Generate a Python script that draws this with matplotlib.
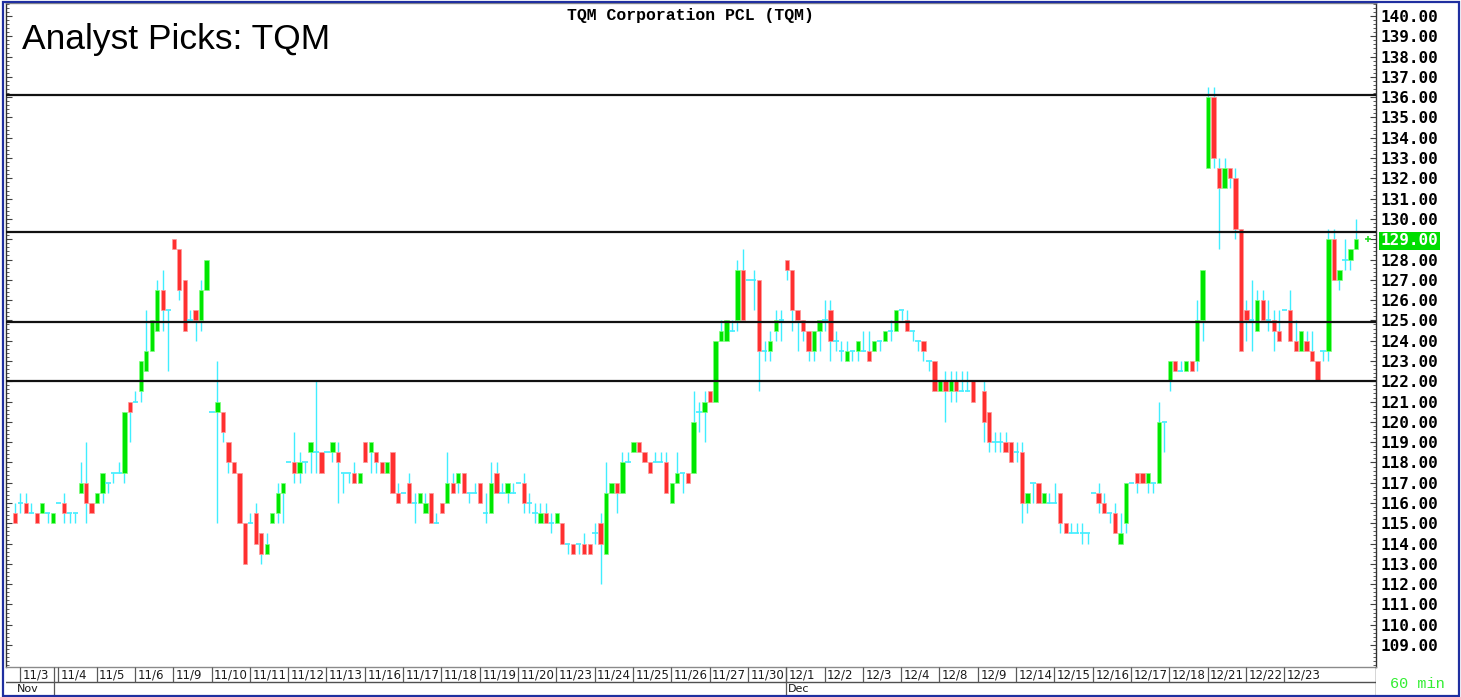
import numpy as np
import matplotlib.pyplot as plt
from matplotlib.patches import Rectangle
from matplotlib.ticker import FixedLocator, MultipleLocator

# 60 min bars. bar 0 is the last bar of the previous
# session, then 7 bars per trading day (11/3 ... 12/24)
opens = [
    115.5,
    116, 116, 115.5, 115.5, 115.5, 115.5, 115,
    116, 116, 115.5, 115.5, 116.5, 117, 116,
    116, 116.5, 117, 117.5, 117.5, 117.5, 121,
    121, 121.5, 122.5, 123.5, 124.5, 126.5, 125.5,
    129, 128.5, 127, 125, 125.5, 125, 126.5,
    120.5, 120.5, 120.5, 119, 118, 117.5, 115,
    115, 115.5, 114.5, 113.5, 115, 115.5, 116.5,
    118, 118, 117.5, 118, 118.5, 118.5, 118.5,
    118.5, 118.5, 118.5, 117.5, 117.5, 117.5, 117,
    119, 118.5, 118.5, 118, 117.5, 118.5, 116.5,
    116.5, 117, 116, 116, 115.5, 116.5, 115,
    116, 116, 117, 117, 117.5, 116.5, 116.5,
    117, 115.5, 115.5, 117.5, 116.5, 116.5, 116.5,
    117, 117, 116, 115.5, 115, 115.5, 115,
    115, 115, 114, 114, 114, 114, 114,
    114.5, 115, 113.5, 116.5, 117, 116.5, 118,
    118.5, 119, 118.5, 118, 118, 118, 118,
    116, 117, 117.5, 117.5, 117.5, 120.5, 120.5,
    121.5, 121, 124, 124, 124.5, 125, 127.5,
    127, 127, 127, 123.5, 123.5, 124.5, 125,
    128, 127.5, 125.5, 125, 124.5, 123.5, 124.5,
    125, 125.5, 124, 123.5, 123, 123.5, 123.5,
    123.5, 123.5, 123.5, 124, 124, 124.5, 124.5,
    125.5, 125, 124.5, 124, 124, 123, 123,
    121.5, 122, 121.5, 122, 121.5, 121.5, 122,
    122, 121.5, 120.5, 119, 119, 119, 119,
    118.5, 118.5, 116, 117, 117, 116, 116,
    116, 116.5, 115, 114.5, 114.5, 114.5, 114.5,
    116.5, 116.5, 116, 115.5, 115.5, 114, 115,
    117, 117.5, 117.5, 117, 117, 117, 120,
    122, 123, 122.5, 122.5, 123, 123, 125,
    132.5, 136, 132.5, 131.5, 132.5, 132, 129.5,
    125.5, 125, 124.5, 126, 125, 125, 124.5,
    125.5, 125.5, 124, 123.5, 124, 123.5, 123,
    123.5, 123.5, 129, 127, 128, 128, 128.5,
]
highs = [
    116,
    116.5, 116.5, 116, 115.5, 116, 115.5, 115.5,
    116, 116.5, 115.5, 115.5, 118, 119, 116,
    116.5, 117.5, 117, 117.5, 118, 120.5, 121,
    121.5, 123, 125.5, 125, 127, 127.5, 125.5,
    129, 128.5, 127, 125.5, 125.5, 127, 128,
    120.5, 123, 120.5, 119, 118, 117.5, 115,
    115.5, 116, 114.5, 114.5, 115.5, 117, 117,
    118, 119.5, 118.5, 118, 119, 122, 118.5,
    118.5, 119, 119, 117.5, 117.5, 118, 117.5,
    119, 119, 118.5, 118, 118, 118.5, 117,
    116.5, 117.5, 116.5, 116.5, 116.5, 116.5, 115.5,
    116, 118.5, 117.5, 117.5, 117.5, 116.5, 117,
    117, 116.5, 118, 118, 117, 117, 117,
    117, 117.5, 116.5, 116, 116, 116, 115.5,
    115.5, 115, 114, 114, 114, 114.5, 114,
    115, 115.5, 118, 117, 117, 118.5, 118.5,
    119, 119, 118.5, 118, 118.5, 118.5, 118.5,
    117, 118.5, 117.5, 117.5, 121.5, 121, 121.5,
    121.5, 124, 125, 125, 125, 128, 128.5,
    127, 127.5, 127, 124, 124.5, 125.5, 125.5,
    128, 127.5, 125.5, 125, 124.5, 124.5, 125,
    126, 126, 124.5, 124, 124, 123.5, 124,
    124.5, 124.5, 124, 124, 124.5, 125, 125.5,
    125.5, 125.5, 124.5, 124, 124, 123, 123,
    122, 122.5, 122.5, 122.5, 122.5, 122.5, 122,
    122, 122, 120.5, 119.5, 119.5, 119.5, 119,
    119, 119, 116.5, 117, 117, 116.5, 116.5,
    117, 116.5, 115, 115, 115, 115, 114.5,
    116.5, 117, 116.5, 115.5, 116, 115.5, 117,
    117, 117.5, 117.5, 117.5, 117, 121, 120,
    123, 123, 123, 123, 123, 126, 127.5,
    136.5, 136.5, 133, 133, 132.5, 132.5, 129.5,
    126, 127, 126.5, 126.5, 126, 125.5, 125.5,
    125.5, 126.5, 125, 124.5, 124.5, 124.5, 123,
    123.5, 129.5, 129.5, 127.5, 129, 128.5, 130,
]
lows = [
    115,
    115.5, 115.5, 115.5, 115, 115.5, 115, 115,
    116, 115, 115, 115, 116.5, 115, 115.5,
    116, 116, 116.5, 117, 117.5, 117, 119,
    121, 121, 122.5, 123.5, 124.5, 124.5, 122.5,
    128.5, 126, 124.5, 125, 124, 124.5, 126.5,
    120.5, 115, 119, 117.5, 117.5, 115, 113,
    115, 114, 113, 113.5, 115, 115, 115,
    118, 117, 117, 117.5, 117.5, 117.5, 117.5,
    118.5, 118, 116, 116.5, 117, 117, 117,
    118, 117.5, 117.5, 117.5, 117.5, 116.5, 116,
    116.5, 116, 115, 116, 115.5, 115, 115,
    115.5, 116, 116.5, 116.5, 116.5, 116, 116.5,
    116, 115, 115.5, 116.5, 116.5, 116, 116.5,
    117, 115.5, 115.5, 115, 115, 115, 114.5,
    115, 114, 113.5, 113.5, 113.5, 113.5, 113.5,
    114, 112, 113.5, 116.5, 115.5, 116.5, 118,
    118.5, 118.5, 118, 117.5, 118, 118, 116.5,
    116, 117, 116.5, 117, 117.5, 119.5, 119,
    121, 121, 124, 124, 124.5, 124.5, 125,
    127, 125.5, 121.5, 123, 123, 124, 124,
    127, 124.5, 123.5, 124, 123, 123, 123.5,
    124.5, 123, 123.5, 123, 123, 123, 123,
    123.5, 123, 123.5, 123.5, 124, 124, 124.5,
    125, 124.5, 124, 123.5, 123, 122.5, 121.5,
    121.5, 120, 121, 121, 121.5, 121.5, 121,
    122, 119, 118.5, 118.5, 118.5, 118.5, 118,
    118, 115, 115.5, 116, 116, 116, 116,
    116, 114.5, 114.5, 114.5, 114.5, 114, 114,
    116.5, 115.5, 115.5, 115, 114.5, 114, 114.5,
    117, 116.5, 117, 116.5, 116.5, 117, 118.5,
    121.5, 122.5, 122.5, 122.5, 122.5, 122.5, 124,
    132.5, 132.5, 128.5, 131.5, 131.5, 129, 123.5,
    124, 123.5, 124.5, 125, 124.5, 123.5, 124,
    125.5, 124, 123.5, 123.5, 123.5, 123, 122,
    123, 123, 127, 126.5, 127.5, 127.5, 128.5,
]
closes = [
    115,
    116, 115.5, 115.5, 115, 116, 115.5, 115.5,
    116, 115.5, 115.5, 115.5, 117, 116, 115.5,
    116.5, 117.5, 117, 117.5, 117.5, 120.5, 120.5,
    121, 123, 123.5, 125, 126.5, 125.5, 125.5,
    128.5, 126.5, 124.5, 125, 125, 126.5, 128,
    120.5, 121, 119.5, 118, 117.5, 115, 113,
    115, 114, 113.5, 114, 115.5, 116.5, 117,
    118, 117.5, 118, 118, 119, 118.5, 117.5,
    118.5, 119, 118, 117.5, 117.5, 117, 117.5,
    118, 119, 118, 117.5, 118, 116.5, 116,
    116.5, 116, 116, 116.5, 116, 115, 115,
    115.5, 117, 116.5, 117.5, 116.5, 116.5, 116.5,
    116, 115.5, 117, 116.5, 116.5, 117, 116.5,
    117, 116, 116, 115.5, 115.5, 115, 115,
    115.5, 114, 114, 113.5, 114, 113.5, 113.5,
    114.5, 114, 116.5, 117, 116.5, 118, 118,
    119, 118.5, 118, 117.5, 118, 118, 116.5,
    117, 117.5, 117.5, 117, 120, 120.5, 121,
    121, 124, 124.5, 125, 124.5, 127.5, 125,
    127, 127, 123.5, 123.5, 124, 125, 125,
    127.5, 125.5, 125, 124.5, 123.5, 124.5, 125,
    125, 124, 124, 123.5, 123.5, 123.5, 124,
    123.5, 123, 124, 124, 124.5, 124.5, 125.5,
    125.5, 124.5, 124.5, 124, 123.5, 123, 121.5,
    122, 121.5, 122, 121.5, 121.5, 121.5, 121,
    122, 120, 119, 119, 119, 118.5, 118,
    118.5, 116, 116.5, 117, 116, 116.5, 116,
    116, 115, 114.5, 114.5, 114.5, 114.5, 114.5,
    116.5, 116, 115.5, 115.5, 114.5, 114.5, 117,
    117, 117, 117, 117.5, 117, 120, 120,
    123, 122.5, 122.5, 123, 122.5, 125, 127.5,
    136, 133, 131.5, 132.5, 132, 129.5, 123.5,
    125, 125, 126, 125, 125, 124.5, 124,
    125.5, 124, 123.5, 124.5, 123.5, 123, 122,
    123.5, 129, 127, 127.5, 128, 128.5, 129,
]

day_labels = ['11/3', '11/4', '11/5', '11/6', '11/9', '11/10', '11/11', '11/12',
              '11/13', '11/16', '11/17', '11/18', '11/19', '11/20', '11/23',
              '11/24', '11/25', '11/26', '11/27', '11/30', '12/1', '12/2',
              '12/3', '12/4', '12/8', '12/9', '12/14', '12/15', '12/16',
              '12/17', '12/18', '12/21', '12/22', '12/23']
month_labels = ['Nov', 'Dec']
month_first_day = [0, 20]

# analyst levels drawn on the chart
levels = [136.1, 129.35, 124.9, 122.0]
last_price = 129.0
price_ticks = np.arange(109, 141)

GREEN = '#00e600'
RED = '#ff3030'
WICK = '#40eeff'

W, H = 1461, 697
fig = plt.figure(figsize=(W / 100, H / 100), dpi=100)


def fx(px):
    return px / W


def fy(py):
    return 1 - py / H


# --- price panel ---
ax = fig.add_axes([fx(6), fy(667), fx(1376) - fx(6), fy(3) - fy(667)])

o = np.array(opens)
h = np.array(highs)
l = np.array(lows)
c = np.array(closes)
x = np.arange(len(o))
up = c > o
dn = c < o
flat = c == o

ax.vlines(x, l, h, color=WICK, lw=1.0, zorder=2)
ax.bar(x[up], (c - o)[up], bottom=o[up], width=0.78, color=GREEN,
       edgecolor='#80ff80', linewidth=0.5, zorder=3)
ax.bar(x[dn], (o - c)[dn], bottom=c[dn], width=0.78, color=RED,
       edgecolor='#ff9a9a', linewidth=0.5, zorder=3)
ax.hlines(o[flat], x[flat] - 0.48, x[flat] + 0.48, color=WICK, lw=1.2, zorder=3)

for v in levels:
    ax.axhline(v, color='#111111', lw=1.6, zorder=5)

# little last-price marker
ax.plot([x[-1] + 2.3], [last_price], marker='+', ms=5, mew=1.2,
        color='#22dd22', clip_on=False, zorder=6)

ax.set_xlim(-1.64, 248.68)
ax.set_ylim(107.92, 140.64)
ax.set_xticks([])
ax.yaxis.set_major_locator(FixedLocator(price_ticks))
ax.yaxis.set_minor_locator(MultipleLocator(0.2))
ax.set_yticklabels([f'{v:.2f}' for v in price_ticks])
ax.tick_params(axis='y', which='both', direction='in', left=True, right=True,
               labelleft=False, labelright=True, pad=3, color='#404040',
               labelcolor='black', labelsize=11.5)
ax.tick_params(axis='y', which='major', length=4, width=0.8)
ax.tick_params(axis='y', which='minor', length=2, width=0.6)
for lab in ax.get_yticklabels():
    lab.set_fontfamily('DejaVu Sans Mono')
    lab.set_fontweight('bold')
    if lab.get_text() == f'{last_price:.2f}':
        lab.set_color('white')
        lab.set_bbox(dict(facecolor='#00dd00', edgecolor='none', pad=1.2))

for side in ['left', 'right']:
    ax.spines[side].set_color('#303030')
    ax.spines[side].set_linewidth(1.0)
for side in ['top', 'bottom']:
    ax.spines[side].set_color('#8a8a8a')
    ax.spines[side].set_linewidth(1.0)

# --- date strip ---
axd = fig.add_axes([fx(6), fy(696), fx(1376) - fx(6), fy(667) - fy(696)])
axd.set_xlim(ax.get_xlim())
axd.set_ylim(0, 1)
axd.axis('off')
row = 14 / 29
axd.axhline(row, color='#505050', lw=1.0)
axd.axvline(axd.get_xlim()[1], color='#303030', lw=1.0)
for k, lab in enumerate(day_labels):
    xs = 7 * k + 0.92
    if k > 0:
        axd.vlines(xs, row, 1, color='#5a5a5a', lw=0.9)
    axd.text(xs + 0.45, (row + 1) / 2 - 0.02, lab, ha='left', va='center',
             fontsize=8.5, color='#1a1a1a')
axd.vlines(0.92, row, 1, color='#5a5a5a', lw=0.9)
for m, d in zip(month_labels, month_first_day):
    xs = 7 * d + 0.92 if d > 0 else 7.13
    axd.vlines(xs, 0, 1, color='#5a5a5a', lw=0.9)
    xt = 7 * d + 1.2 if d > 0 else 0.3
    axd.text(xt, row / 2, m, ha='left', va='center', fontsize=8, color='#1a1a1a')

# --- texts ---
fig.text(fx(690), fy(20), 'TQM Corporation PCL (TQM)', ha='center', va='baseline',
         fontsize=11.9, fontweight='bold', family='Liberation Mono', color='black')
fig.text(fx(22), fy(49), 'Analyst Picks: TQM', ha='left', va='baseline',
         fontsize=25.5, family='Liberation Sans', color='black')
fig.text(fx(1390), fy(688), '60 min', ha='left', va='baseline',
         fontsize=11, family='Liberation Mono', color='#33ee33')

# outer frame
fig.add_artist(Rectangle((fx(3), fy(696)), fx(1459) - fx(3), fy(1.5) - fy(696),
                         transform=fig.transFigure, fill=False,
                         edgecolor='#1f2fa0', linewidth=1.6))

fig.savefig('out.png', dpi=100)
plt.close(fig)
